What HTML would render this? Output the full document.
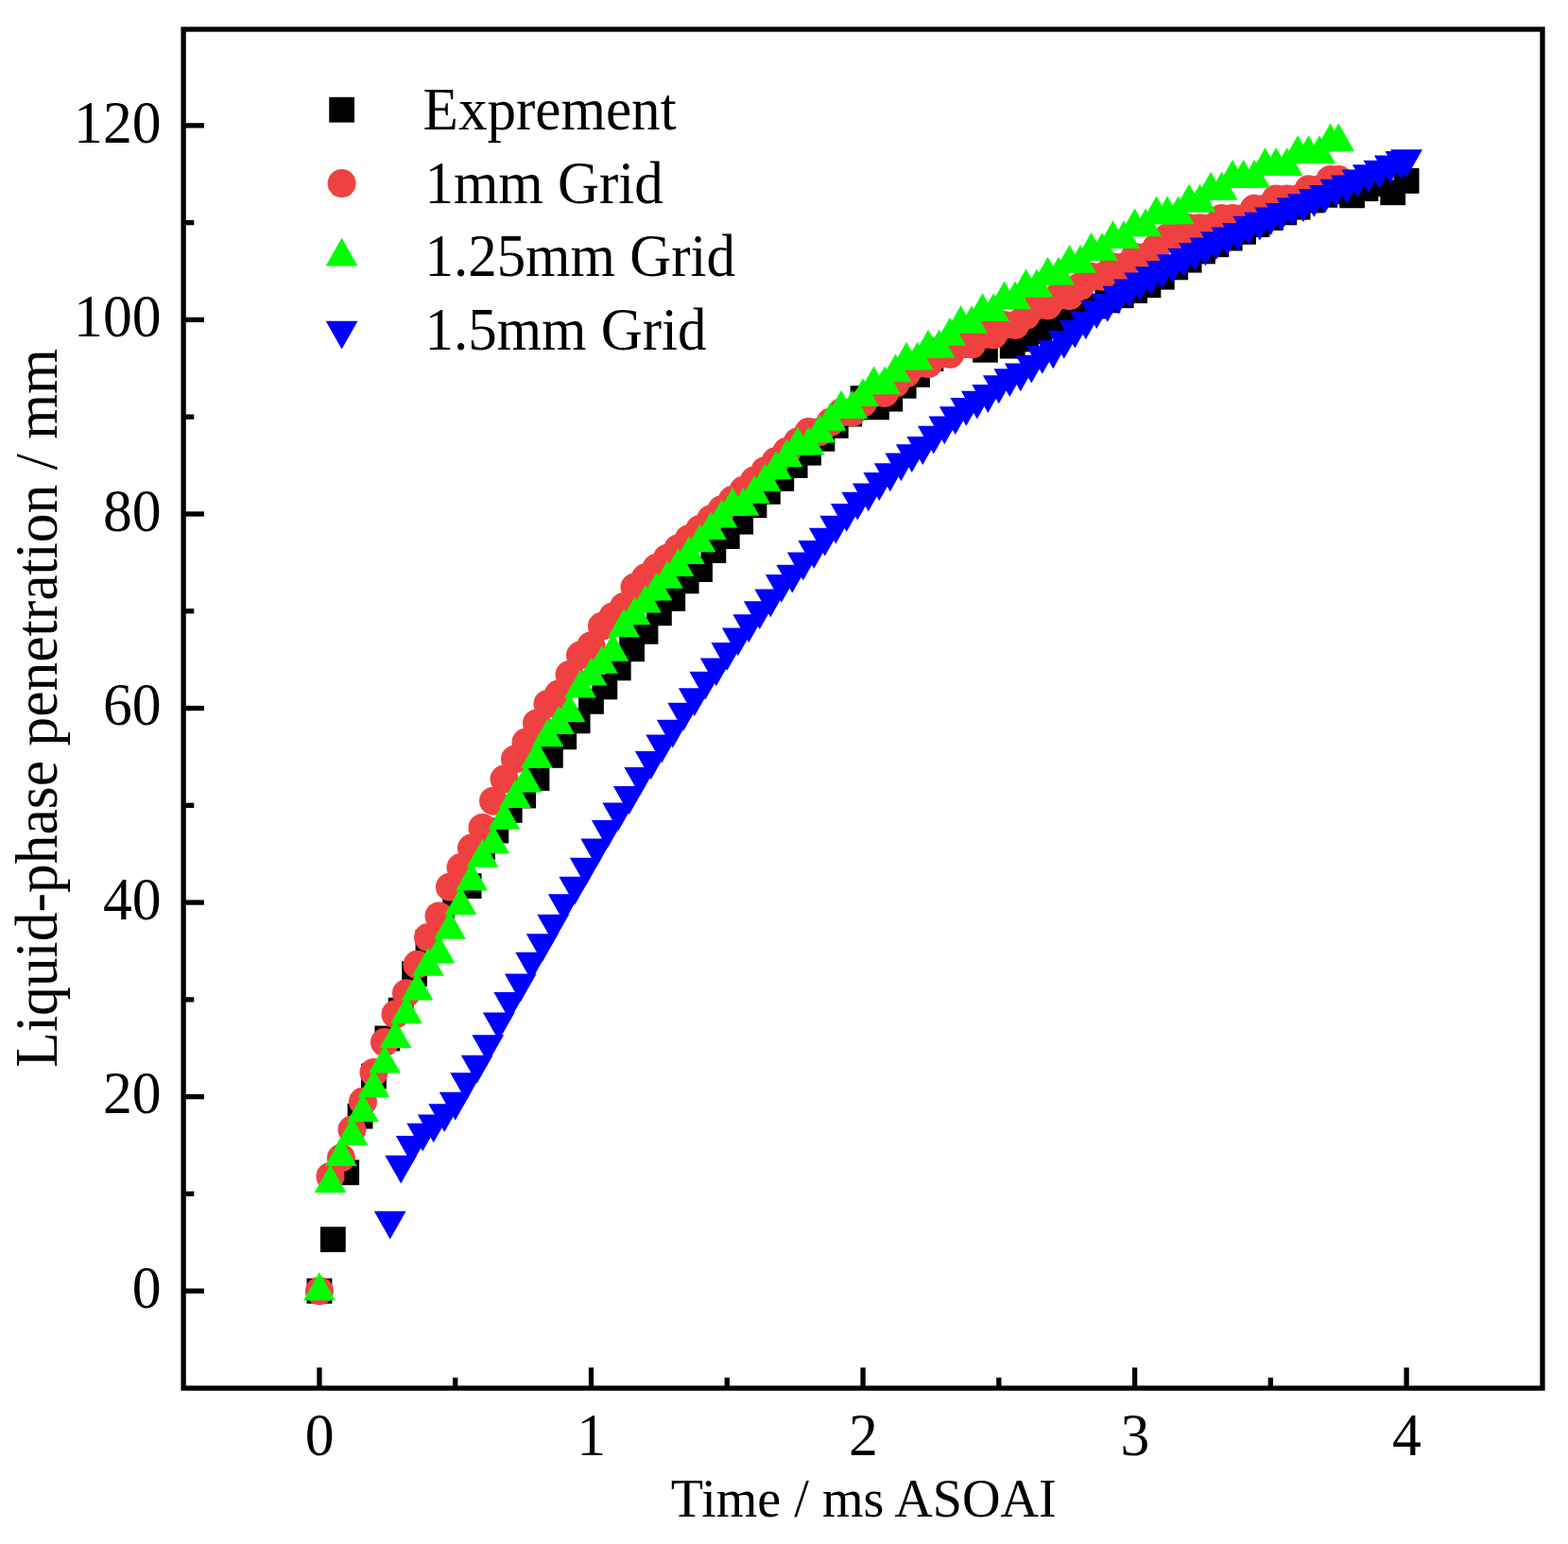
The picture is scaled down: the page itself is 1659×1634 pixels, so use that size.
<!DOCTYPE html>
<html lang="en">
<head>
<meta charset="utf-8">
<title>Liquid-phase penetration vs. time</title>
<style>
html,body{margin:0;padding:0;background:#fff;}
body{width:1659px;height:1634px;overflow:hidden;}
svg{display:block;}
text{font-family:"Liberation Serif","Times New Roman",Times,serif;fill:#000;}
.tk{font-size:63.6px;}
.lg{font-size:63px;}
</style>
</head>
<body>
<svg width="1659" height="1634" viewBox="0 0 1659 1634">
<rect x="0" y="0" width="1659" height="1634" fill="#fff"/>
<defs>
<rect id="s" x="-13.4" y="-13.4" width="26.8" height="26.8" fill="#000"/>
<circle id="c" r="15" fill="#F04141"/>
<path id="u" d="M0 -19.87 L16.9 9.93 L-16.9 9.93 Z" fill="#00FF00"/>
<path id="d" d="M0 19.87 L16.9 -9.93 L-16.9 -9.93 Z" fill="#0000FF"/>
</defs>
<g>
<use href="#s" x="337.95" y="1366.2"/><use href="#s" x="352.33" y="1311.73"/><use href="#s" x="366.7" y="1240.81"/><use href="#s" x="381.08" y="1181.2"/><use href="#s" x="395.46" y="1139.06"/><use href="#s" x="409.83" y="1098.97"/><use href="#s" x="424.21" y="1069.17"/><use href="#s" x="438.59" y="1030.62"/><use href="#s" x="452.97" y="997.22"/><use href="#s" x="467.34" y="971.52"/><use href="#s" x="481.72" y="944.8"/><use href="#s" x="496.1" y="937.61"/><use href="#s" x="510.47" y="896.5"/><use href="#s" x="524.85" y="879.02"/><use href="#s" x="539.23" y="857.44"/><use href="#s" x="553.61" y="842.02"/><use href="#s" x="567.98" y="823.52"/><use href="#s" x="582.36" y="799.37"/><use href="#s" x="596.74" y="779.84"/><use href="#s" x="611.11" y="762.88"/><use href="#s" x="625.49" y="742.33"/><use href="#s" x="639.87" y="726.91"/><use href="#s" x="654.24" y="706.87"/><use href="#s" x="668.62" y="686.82"/><use href="#s" x="683" y="668.32"/><use href="#s" x="697.38" y="648.8"/><use href="#s" x="711.75" y="633.38"/><use href="#s" x="726.13" y="614.88"/><use href="#s" x="740.51" y="602.54"/><use href="#s" x="754.88" y="582.5"/><use href="#s" x="769.26" y="567.6"/><use href="#s" x="783.64" y="552.18"/><use href="#s" x="798.01" y="534.71"/><use href="#s" x="812.39" y="520.32"/><use href="#s" x="826.77" y="506.45"/><use href="#s" x="841.14" y="492.57"/><use href="#s" x="855.52" y="479.21"/><use href="#s" x="869.9" y="464.31"/><use href="#s" x="884.28" y="450.43"/><use href="#s" x="898.65" y="438.1"/><use href="#s" x="913.03" y="421.65"/><use href="#s" x="927.41" y="430.9"/><use href="#s" x="941.78" y="422.17"/><use href="#s" x="956.16" y="408.29"/><use href="#s" x="970.54" y="396.47"/><use href="#s" x="984.91" y="379.51"/><use href="#s" x="999.29" y="371.29"/><use href="#s" x="1013.67" y="365.12"/><use href="#s" x="1028.05" y="358.96"/><use href="#s" x="1042.42" y="370.26"/><use href="#s" x="1056.8" y="345.59"/><use href="#s" x="1071.18" y="366.15"/><use href="#s" x="1085.55" y="358.96"/><use href="#s" x="1099.93" y="350.73"/><use href="#s" x="1114.31" y="343.54"/><use href="#s" x="1128.68" y="336.34"/><use href="#s" x="1143.06" y="330.18"/><use href="#s" x="1157.44" y="324.01"/><use href="#s" x="1171.82" y="317.84"/><use href="#s" x="1186.19" y="312.7"/><use href="#s" x="1200.57" y="307.57"/><use href="#s" x="1214.95" y="301.81"/><use href="#s" x="1229.32" y="293.18"/><use href="#s" x="1243.7" y="282.9"/><use href="#s" x="1258.08" y="275.19"/><use href="#s" x="1272.46" y="265.94"/><use href="#s" x="1286.83" y="258.75"/><use href="#s" x="1301.21" y="252.06"/><use href="#s" x="1315.59" y="245.38"/><use href="#s" x="1329.96" y="237.68"/><use href="#s" x="1344.34" y="230.48"/><use href="#s" x="1358.72" y="224.83"/><use href="#s" x="1373.09" y="219.18"/><use href="#s" x="1387.47" y="211.98"/><use href="#s" x="1401.85" y="206.33"/><use href="#s" x="1416.23" y="202.73"/><use href="#s" x="1430.6" y="206.84"/><use href="#s" x="1444.98" y="199.65"/><use href="#s" x="1459.36" y="194.51"/><use href="#s" x="1473.73" y="203.76"/><use href="#s" x="1488.11" y="191.42"/>
</g>
<g>
<use href="#c" x="337.95" y="1366.2"/><use href="#c" x="349.45" y="1244.92"/><use href="#c" x="360.95" y="1225.39"/><use href="#c" x="372.45" y="1195.59"/><use href="#c" x="383.96" y="1165.78"/><use href="#c" x="395.46" y="1134.94"/><use href="#c" x="406.96" y="1103.08"/><use href="#c" x="418.46" y="1073.28"/><use href="#c" x="429.96" y="1051.18"/><use href="#c" x="441.46" y="1020.86"/><use href="#c" x="452.97" y="992.08"/><use href="#c" x="464.47" y="969.47"/><use href="#c" x="475.97" y="938.64"/><use href="#c" x="487.47" y="918.08"/><use href="#c" x="498.97" y="897.52"/><use href="#c" x="510.47" y="875.94"/><use href="#c" x="521.98" y="847.67"/><use href="#c" x="533.48" y="824.55"/><use href="#c" x="544.98" y="803.48"/><use href="#c" x="556.48" y="785.49"/><use href="#c" x="567.98" y="765.45"/><use href="#c" x="579.48" y="744.89"/><use href="#c" x="590.99" y="734.62"/><use href="#c" x="602.49" y="714.06"/><use href="#c" x="613.99" y="693.5"/><use href="#c" x="625.49" y="683.23"/><use href="#c" x="636.99" y="662.67"/><use href="#c" x="648.49" y="652.39"/><use href="#c" x="659.99" y="642.11"/><use href="#c" x="671.5" y="621.56"/><use href="#c" x="683" y="611.28"/><use href="#c" x="694.5" y="601"/><use href="#c" x="706" y="590.72"/><use href="#c" x="717.5" y="580.45"/><use href="#c" x="729" y="570.17"/><use href="#c" x="740.51" y="559.89"/><use href="#c" x="752.01" y="549.61"/><use href="#c" x="763.51" y="539.33"/><use href="#c" x="775.01" y="529.06"/><use href="#c" x="786.51" y="518.78"/><use href="#c" x="798.01" y="508.5"/><use href="#c" x="809.52" y="498.22"/><use href="#c" x="821.02" y="487.94"/><use href="#c" x="832.52" y="477.67"/><use href="#c" x="844.02" y="467.39"/><use href="#c" x="855.52" y="457.11"/><use href="#c" x="867.02" y="457.11"/><use href="#c" x="878.53" y="446.83"/><use href="#c" x="890.03" y="436.55"/><use href="#c" x="901.53" y="436.55"/><use href="#c" x="913.03" y="426.28"/><use href="#c" x="924.53" y="416"/><use href="#c" x="936.03" y="416"/><use href="#c" x="947.53" y="405.72"/><use href="#c" x="959.04" y="395.44"/><use href="#c" x="970.54" y="385.16"/><use href="#c" x="982.04" y="385.16"/><use href="#c" x="993.54" y="374.89"/><use href="#c" x="1005.04" y="374.89"/><use href="#c" x="1016.54" y="364.61"/><use href="#c" x="1028.05" y="364.61"/><use href="#c" x="1039.55" y="354.33"/><use href="#c" x="1051.05" y="354.33"/><use href="#c" x="1062.55" y="344.05"/><use href="#c" x="1074.05" y="344.05"/><use href="#c" x="1085.55" y="333.77"/><use href="#c" x="1097.06" y="323.5"/><use href="#c" x="1108.56" y="323.5"/><use href="#c" x="1120.06" y="313.22"/><use href="#c" x="1131.56" y="313.22"/><use href="#c" x="1143.06" y="302.94"/><use href="#c" x="1154.56" y="292.66"/><use href="#c" x="1166.07" y="292.66"/><use href="#c" x="1177.57" y="282.38"/><use href="#c" x="1189.07" y="282.38"/><use href="#c" x="1200.57" y="272.11"/><use href="#c" x="1212.07" y="272.11"/><use href="#c" x="1223.57" y="261.83"/><use href="#c" x="1235.07" y="251.55"/><use href="#c" x="1246.58" y="251.55"/><use href="#c" x="1258.08" y="241.27"/><use href="#c" x="1269.58" y="241.27"/><use href="#c" x="1281.08" y="241.27"/><use href="#c" x="1292.58" y="230.99"/><use href="#c" x="1304.08" y="230.99"/><use href="#c" x="1315.59" y="230.99"/><use href="#c" x="1327.09" y="220.72"/><use href="#c" x="1338.59" y="220.72"/><use href="#c" x="1350.09" y="210.44"/><use href="#c" x="1361.59" y="210.44"/><use href="#c" x="1373.09" y="210.44"/><use href="#c" x="1384.6" y="200.16"/><use href="#c" x="1396.1" y="200.16"/><use href="#c" x="1407.6" y="189.88"/><use href="#c" x="1416.23" y="189.88"/>
</g>
<g>
<use href="#u" x="337.95" y="1366.2"/><use href="#u" x="349.45" y="1252.42"/><use href="#u" x="360.95" y="1224.06"/><use href="#u" x="372.45" y="1202.06"/><use href="#u" x="383.96" y="1177.39"/><use href="#u" x="395.46" y="1151.39"/><use href="#u" x="406.96" y="1125.69"/><use href="#u" x="418.46" y="1098.97"/><use href="#u" x="429.96" y="1073.28"/><use href="#u" x="441.46" y="1048.61"/><use href="#u" x="452.97" y="1022.91"/><use href="#u" x="464.47" y="1009.55"/><use href="#u" x="475.97" y="983.86"/><use href="#u" x="487.47" y="958.16"/><use href="#u" x="498.97" y="932.47"/><use href="#u" x="510.47" y="907.8"/><use href="#u" x="521.98" y="893.41"/><use href="#u" x="533.48" y="867.72"/><use href="#u" x="544.98" y="845.11"/><use href="#u" x="556.48" y="828.66"/><use href="#u" x="567.98" y="802.97"/><use href="#u" x="579.48" y="780.35"/><use href="#u" x="590.99" y="766.99"/><use href="#u" x="602.49" y="754.15"/><use href="#u" x="613.99" y="728.45"/><use href="#u" x="625.49" y="715.6"/><use href="#u" x="636.99" y="702.76"/><use href="#u" x="648.49" y="689.91"/><use href="#u" x="659.99" y="664.21"/><use href="#u" x="671.5" y="651.37"/><use href="#u" x="683" y="638.52"/><use href="#u" x="694.5" y="625.67"/><use href="#u" x="706" y="612.82"/><use href="#u" x="717.5" y="599.98"/><use href="#u" x="729" y="587.13"/><use href="#u" x="740.51" y="574.28"/><use href="#u" x="752.01" y="561.43"/><use href="#u" x="763.51" y="548.59"/><use href="#u" x="775.01" y="535.74"/><use href="#u" x="786.51" y="535.74"/><use href="#u" x="798.01" y="522.89"/><use href="#u" x="809.52" y="510.04"/><use href="#u" x="821.02" y="497.2"/><use href="#u" x="832.52" y="484.35"/><use href="#u" x="844.02" y="471.5"/><use href="#u" x="855.52" y="471.5"/><use href="#u" x="867.02" y="458.65"/><use href="#u" x="878.53" y="445.81"/><use href="#u" x="890.03" y="432.96"/><use href="#u" x="901.53" y="432.96"/><use href="#u" x="913.03" y="420.11"/><use href="#u" x="924.53" y="407.26"/><use href="#u" x="936.03" y="407.26"/><use href="#u" x="947.53" y="394.42"/><use href="#u" x="959.04" y="381.57"/><use href="#u" x="970.54" y="381.57"/><use href="#u" x="982.04" y="368.72"/><use href="#u" x="993.54" y="368.72"/><use href="#u" x="1005.04" y="355.87"/><use href="#u" x="1016.54" y="343.03"/><use href="#u" x="1028.05" y="343.03"/><use href="#u" x="1039.55" y="330.18"/><use href="#u" x="1051.05" y="330.18"/><use href="#u" x="1062.55" y="317.33"/><use href="#u" x="1074.05" y="317.33"/><use href="#u" x="1085.55" y="304.48"/><use href="#u" x="1097.06" y="304.48"/><use href="#u" x="1108.56" y="291.64"/><use href="#u" x="1120.06" y="291.64"/><use href="#u" x="1131.56" y="278.79"/><use href="#u" x="1143.06" y="278.79"/><use href="#u" x="1154.56" y="265.94"/><use href="#u" x="1166.07" y="265.94"/><use href="#u" x="1177.57" y="253.09"/><use href="#u" x="1189.07" y="253.09"/><use href="#u" x="1200.57" y="240.25"/><use href="#u" x="1212.07" y="240.25"/><use href="#u" x="1223.57" y="227.4"/><use href="#u" x="1235.07" y="227.4"/><use href="#u" x="1246.58" y="227.4"/><use href="#u" x="1258.08" y="214.55"/><use href="#u" x="1269.58" y="214.55"/><use href="#u" x="1281.08" y="201.7"/><use href="#u" x="1292.58" y="201.7"/><use href="#u" x="1304.08" y="188.86"/><use href="#u" x="1315.59" y="188.86"/><use href="#u" x="1327.09" y="188.86"/><use href="#u" x="1338.59" y="176.01"/><use href="#u" x="1350.09" y="176.01"/><use href="#u" x="1361.59" y="176.01"/><use href="#u" x="1373.09" y="163.16"/><use href="#u" x="1384.6" y="163.16"/><use href="#u" x="1396.1" y="163.16"/><use href="#u" x="1407.6" y="150.31"/><use href="#u" x="1416.23" y="150.31"/>
</g>
<g>
<use href="#d" x="412.71" y="1291.68"/><use href="#d" x="424.21" y="1232.59"/><use href="#d" x="435.71" y="1212.03"/><use href="#d" x="447.22" y="1198.67"/><use href="#d" x="458.72" y="1189.42"/><use href="#d" x="470.22" y="1178.11"/><use href="#d" x="481.72" y="1165.78"/><use href="#d" x="493.22" y="1145.22"/><use href="#d" x="504.72" y="1126.72"/><use href="#d" x="516.22" y="1105.14"/><use href="#d" x="527.73" y="1081.5"/><use href="#d" x="539.23" y="1059.92"/><use href="#d" x="550.73" y="1040.39"/><use href="#d" x="562.23" y="1017.78"/><use href="#d" x="573.73" y="998.25"/><use href="#d" x="585.23" y="977.69"/><use href="#d" x="596.74" y="956.11"/><use href="#d" x="608.24" y="937.61"/><use href="#d" x="619.74" y="917.57"/><use href="#d" x="631.24" y="897.52"/><use href="#d" x="642.74" y="878"/><use href="#d" x="654.24" y="859.49"/><use href="#d" x="665.75" y="842.02"/><use href="#d" x="677.25" y="821.98"/><use href="#d" x="688.75" y="805.02"/><use href="#d" x="700.25" y="787.55"/><use href="#d" x="711.75" y="771.72"/><use href="#d" x="723.25" y="753.63"/><use href="#d" x="734.76" y="738.21"/><use href="#d" x="746.26" y="720.74"/><use href="#d" x="757.76" y="706.35"/><use href="#d" x="769.26" y="689.91"/><use href="#d" x="780.76" y="674.49"/><use href="#d" x="792.26" y="660.1"/><use href="#d" x="803.76" y="646.23"/><use href="#d" x="815.27" y="633.38"/><use href="#d" x="826.77" y="617.96"/><use href="#d" x="838.27" y="607.68"/><use href="#d" x="849.77" y="594.32"/><use href="#d" x="861.27" y="581.99"/><use href="#d" x="872.77" y="568.63"/><use href="#d" x="884.28" y="555.78"/><use href="#d" x="895.78" y="542.93"/><use href="#d" x="907.28" y="530.6"/><use href="#d" x="918.78" y="521.35"/><use href="#d" x="930.28" y="510.04"/><use href="#d" x="941.78" y="500.28"/><use href="#d" x="953.29" y="489.49"/><use href="#d" x="964.79" y="480.24"/><use href="#d" x="976.29" y="472.01"/><use href="#d" x="987.79" y="460.71"/><use href="#d" x="999.29" y="450.43"/><use href="#d" x="1010.79" y="440.15"/><use href="#d" x="1022.3" y="430.9"/><use href="#d" x="1033.8" y="423.71"/><use href="#d" x="1045.3" y="417.03"/><use href="#d" x="1056.8" y="407.26"/><use href="#d" x="1068.3" y="400.07"/><use href="#d" x="1079.8" y="394.42"/><use href="#d" x="1091.3" y="385.68"/><use href="#d" x="1102.81" y="375.91"/><use href="#d" x="1114.31" y="370.26"/><use href="#d" x="1125.81" y="359.98"/><use href="#d" x="1137.31" y="348.68"/><use href="#d" x="1148.81" y="339.43"/><use href="#d" x="1160.31" y="328.12"/><use href="#d" x="1171.82" y="320.93"/><use href="#d" x="1183.32" y="312.7"/><use href="#d" x="1194.82" y="305.51"/><use href="#d" x="1206.32" y="298.32"/><use href="#d" x="1217.82" y="292.15"/><use href="#d" x="1229.32" y="285.98"/><use href="#d" x="1240.83" y="279.3"/><use href="#d" x="1252.33" y="272.62"/><use href="#d" x="1263.83" y="266.97"/><use href="#d" x="1275.33" y="261.32"/><use href="#d" x="1286.83" y="255.15"/><use href="#d" x="1298.33" y="250.42"/><use href="#d" x="1309.84" y="245.9"/><use href="#d" x="1321.34" y="238.7"/><use href="#d" x="1332.84" y="234.59"/><use href="#d" x="1344.34" y="229.45"/><use href="#d" x="1355.84" y="224.83"/><use href="#d" x="1367.34" y="219.18"/><use href="#d" x="1378.84" y="215.06"/><use href="#d" x="1390.35" y="209.92"/><use href="#d" x="1401.85" y="205.81"/><use href="#d" x="1413.35" y="199.65"/><use href="#d" x="1424.85" y="195.54"/><use href="#d" x="1436.35" y="189.37"/><use href="#d" x="1447.85" y="184.23"/><use href="#d" x="1459.36" y="179.6"/><use href="#d" x="1470.86" y="174.47"/><use href="#d" x="1482.36" y="169.84"/><use href="#d" x="1488.11" y="168.2"/>
</g>
<g stroke="#000" stroke-width="5.3" fill="none" stroke-linecap="butt">
<line x1="337.95" y1="1469.1" x2="337.95" y2="1447.3"/><line x1="481.72" y1="1469.1" x2="481.72" y2="1457.9"/><line x1="625.49" y1="1469.1" x2="625.49" y2="1447.3"/><line x1="769.26" y1="1469.1" x2="769.26" y2="1457.9"/><line x1="913.03" y1="1469.1" x2="913.03" y2="1447.3"/><line x1="1056.8" y1="1469.1" x2="1056.8" y2="1457.9"/><line x1="1200.57" y1="1469.1" x2="1200.57" y2="1447.3"/><line x1="1344.34" y1="1469.1" x2="1344.34" y2="1457.9"/><line x1="1488.11" y1="1469.1" x2="1488.11" y2="1447.3"/>
<line x1="194.1" y1="1366.2" x2="215.9" y2="1366.2"/><line x1="194.1" y1="1263.42" x2="205.3" y2="1263.42"/><line x1="194.1" y1="1160.64" x2="215.9" y2="1160.64"/><line x1="194.1" y1="1057.86" x2="205.3" y2="1057.86"/><line x1="194.1" y1="955.08" x2="215.9" y2="955.08"/><line x1="194.1" y1="852.3" x2="205.3" y2="852.3"/><line x1="194.1" y1="749.52" x2="215.9" y2="749.52"/><line x1="194.1" y1="646.74" x2="205.3" y2="646.74"/><line x1="194.1" y1="543.96" x2="215.9" y2="543.96"/><line x1="194.1" y1="441.18" x2="205.3" y2="441.18"/><line x1="194.1" y1="338.4" x2="215.9" y2="338.4"/><line x1="194.1" y1="235.62" x2="205.3" y2="235.62"/><line x1="194.1" y1="132.84" x2="215.9" y2="132.84"/>
<rect x="194.1" y="31" width="1437.9" height="1438.1"/>
</g>
<g class="tk" text-anchor="middle">
<text transform="translate(338.25 1540.2) scale(0.97 1)">0</text><text transform="translate(625.79 1540.2) scale(0.97 1)">1</text><text transform="translate(913.33 1540.2) scale(0.97 1)">2</text><text transform="translate(1200.87 1540.2) scale(0.97 1)">3</text><text transform="translate(1488.41 1540.2) scale(0.97 1)">4</text>
</g>
<g class="tk" text-anchor="end">
<text transform="translate(170.6 1384) scale(0.97 1)">0</text><text transform="translate(170.6 1178.44) scale(0.97 1)">20</text><text transform="translate(170.6 972.88) scale(0.97 1)">40</text><text transform="translate(170.6 767.32) scale(0.97 1)">60</text><text transform="translate(170.6 561.76) scale(0.97 1)">80</text><text transform="translate(170.6 356.2) scale(0.97 1)">100</text><text transform="translate(170.6 150.64) scale(0.97 1)">120</text>
</g>
<text transform="translate(913.8 1605) scale(0.971 1)" text-anchor="middle" font-size="57.8">Time / ms ASOAI</text>
<text transform="translate(60.0 749.4) rotate(-90) scale(0.974 1)" text-anchor="middle" font-size="63.2">Liquid-phase penetration / mm</text>
<g class="lg">
<use href="#s" x="361.6" y="116.2"/><text transform="translate(447.6 136.9) scale(0.970 1)">Exprement</text>
<use href="#c" x="361.6" y="194.1"/><text transform="translate(449.4 215.2) scale(0.968 1)">1mm Grid</text>
<use href="#u" x="361.6" y="271.6"/><text transform="translate(449.4 292.4) scale(0.968 1)">1.25mm Grid</text>
<use href="#d" x="361.6" y="349.7"/><text transform="translate(449.4 369.8) scale(0.968 1)">1.5mm Grid</text>
</g>
</svg>
</body>
</html>
